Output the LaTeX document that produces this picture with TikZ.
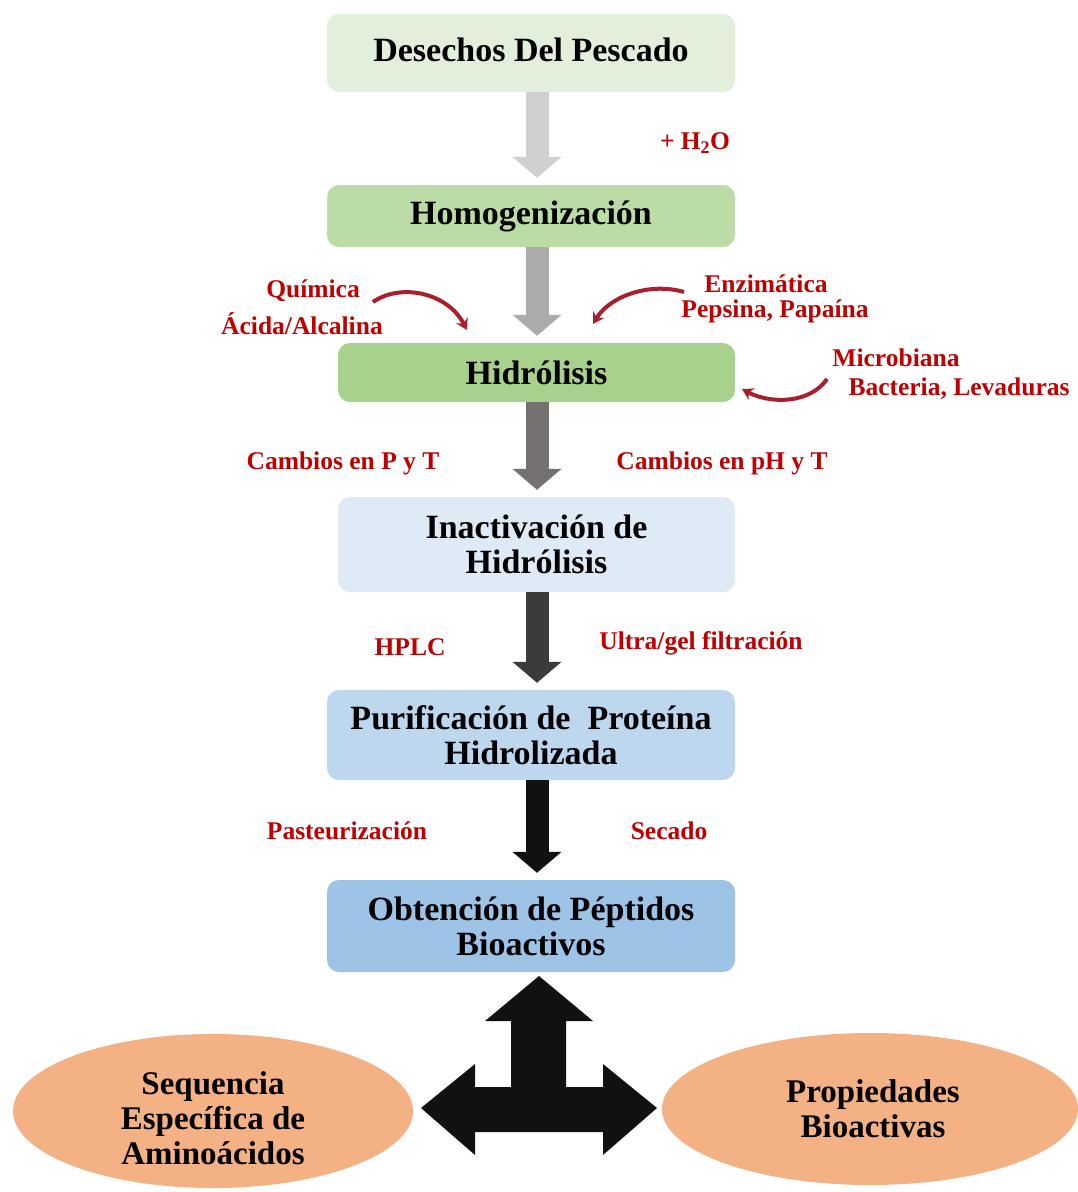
\documentclass[tikz,border=0pt]{standalone}
\usepackage{fontspec}
\setmainfont{Liberation Serif}
\usetikzlibrary{arrows.meta,shapes.geometric,calc}
\definecolor{boxA}{HTML}{E2EFDA}
\definecolor{boxB}{HTML}{BBDCA5}
\definecolor{boxC}{HTML}{A9D18E}
\definecolor{boxD}{HTML}{DEEBF7}
\definecolor{boxE}{HTML}{BDD7EE}
\definecolor{boxF}{HTML}{9DC3E6}
\definecolor{ovalc}{HTML}{F4B183}
\definecolor{lab}{HTML}{C00000}
\definecolor{curv}{HTML}{A8202E}
\definecolor{arA}{HTML}{D0D0D0}
\definecolor{arB}{HTML}{ABABAB}
\definecolor{arC}{HTML}{767171}
\definecolor{arD}{HTML}{3B3B3B}
\definecolor{arE}{HTML}{111111}
\begin{document}
\begin{tikzpicture}[x=1pt,y=-1pt,
  stepbox/.style={rounded corners=12pt, inner sep=0pt, align=center,
    font=\fontsize{34}{35}\selectfont\bfseries},
  lbl/.style={text=lab, inner sep=0pt, font=\fontsize{25.5}{27}\selectfont\bfseries},
  blk/.style={line width=23pt, -{Triangle[width=48pt,length=21pt]}, shorten >=7pt},
  curvy/.style={draw=curv, line width=4pt, -{Stealth[length=11pt,width=13pt]}},
  ovalst/.style={ellipse, fill=ovalc, inner sep=0pt},
  ovaltext/.style={inner sep=0pt, align=center, font=\fontsize{33}{35}\selectfont\bfseries}]
\useasboundingbox[fill=white] (0,0) rectangle (1078,1192);

% boxes
\node[stepbox, fill=boxA, minimum width=408pt, minimum height=78pt] (b1) at (531,53)
  {\raisebox{6pt}{Desechos Del Pescado}};
\node[stepbox, fill=boxB, minimum width=408pt, minimum height=62pt] (b2) at (531,216)
  {Homogenización};
\node[stepbox, fill=boxC, minimum width=397pt, minimum height=59pt] (b3) at (536.5,372.5)
  {Hidrólisis};
\node[stepbox, fill=boxD, minimum width=397pt, minimum height=95pt] (b4) at (536.5,544.5)
  {Inactivación de\\Hidrólisis};
\node[stepbox, fill=boxE, minimum width=408pt, minimum height=90pt] (b5) at (531,735)
  {Purificación de\ \ Proteína\\Hidrolizada};
\node[stepbox, fill=boxF, minimum width=408pt, minimum height=92pt] (b6) at (531,926)
  {Obtención de Péptidos\\Bioactivos};

% block arrows
\coordinate (ax) at (537,0);
\draw[blk, arA] (b1.south -| ax) -- (b2.north -| ax);
\draw[blk, arB] (b2.south -| ax) -- (b3.north -| ax);
\draw[blk, arC] (b3.south -| ax) -- (b4.north -| ax);
\draw[blk, arD] (b4.south -| ax) -- (b5.north -| ax);
\draw[blk, arE] (b5.south -| ax) -- (b6.north -| ax);

% labels
\node[lbl] (h2o) at (695,143) {+ H\textsubscript{2}O};
\node[lbl] (quim) at (313,291) {Química};
\node[lbl] (acid) at (302,324) {Ácida/Alcalina};
\node[lbl] (enz) at (766,284) {Enzimática};
\node[lbl] (peps) at (775,311) {Pepsina, Papaína};
\node[lbl] (micro) at (896,358) {Microbiana};
\node[lbl] (bact) at (959,389) {Bacteria, Levaduras};
\node[lbl] (cpt) at (343,463) {Cambios en P y T};
\node[lbl] (cpht) at (722,463) {Cambios en pH y T};
\node[lbl] (hplc) at (410,647) {HPLC};
\node[lbl] (ultra) at (701,643) {Ultra/gel filtración};
\node[lbl] (past) at (347,831) {Pasteurización};
\node[lbl] (sec) at (669,831) {Secado};

% curved arrows
\coordinate (q1) at (373,302);
\coordinate (q2) at (467,330);
\draw[curvy] (q1) .. controls (400,283) and (447,292) .. (q2);
\coordinate (z1) at (684,292);
\coordinate (z2) at (593,324);
\draw[curvy] (z1) .. controls (650,282) and (610,296) .. (z2);
\coordinate (m1) at (827,379);
\coordinate (m2) at (742,389);
\draw[curvy] (m1) .. controls (810,404) and (770,404) .. (m2);

% three-way arrow
\fill[arE] (539,976) -- (593,1021) -- (566,1021) -- (566,1087) -- (603,1087)
  -- (603,1064) -- (657,1108) -- (603,1155) -- (603,1132) -- (475,1132)
  -- (475,1155) -- (421,1108) -- (475,1064) -- (475,1087) -- (511,1087)
  -- (511,1021) -- (485,1021) -- cycle;

% ellipses
\node[ovalst, minimum width=400pt, minimum height=154pt] (e1) at (213,1111) {};
\node[ovaltext] (e1t) at ($(e1.center)+(0,7)$) {Sequencia\\Específica de\\Aminoácidos};
\node[ovalst, minimum width=416pt, minimum height=152pt] (e2) at (870,1109) {};
\node[ovaltext] (e2t) at ($(e2.center)+(3,0)$) {Propiedades\\Bioactivas};
\end{tikzpicture}
\end{document}
